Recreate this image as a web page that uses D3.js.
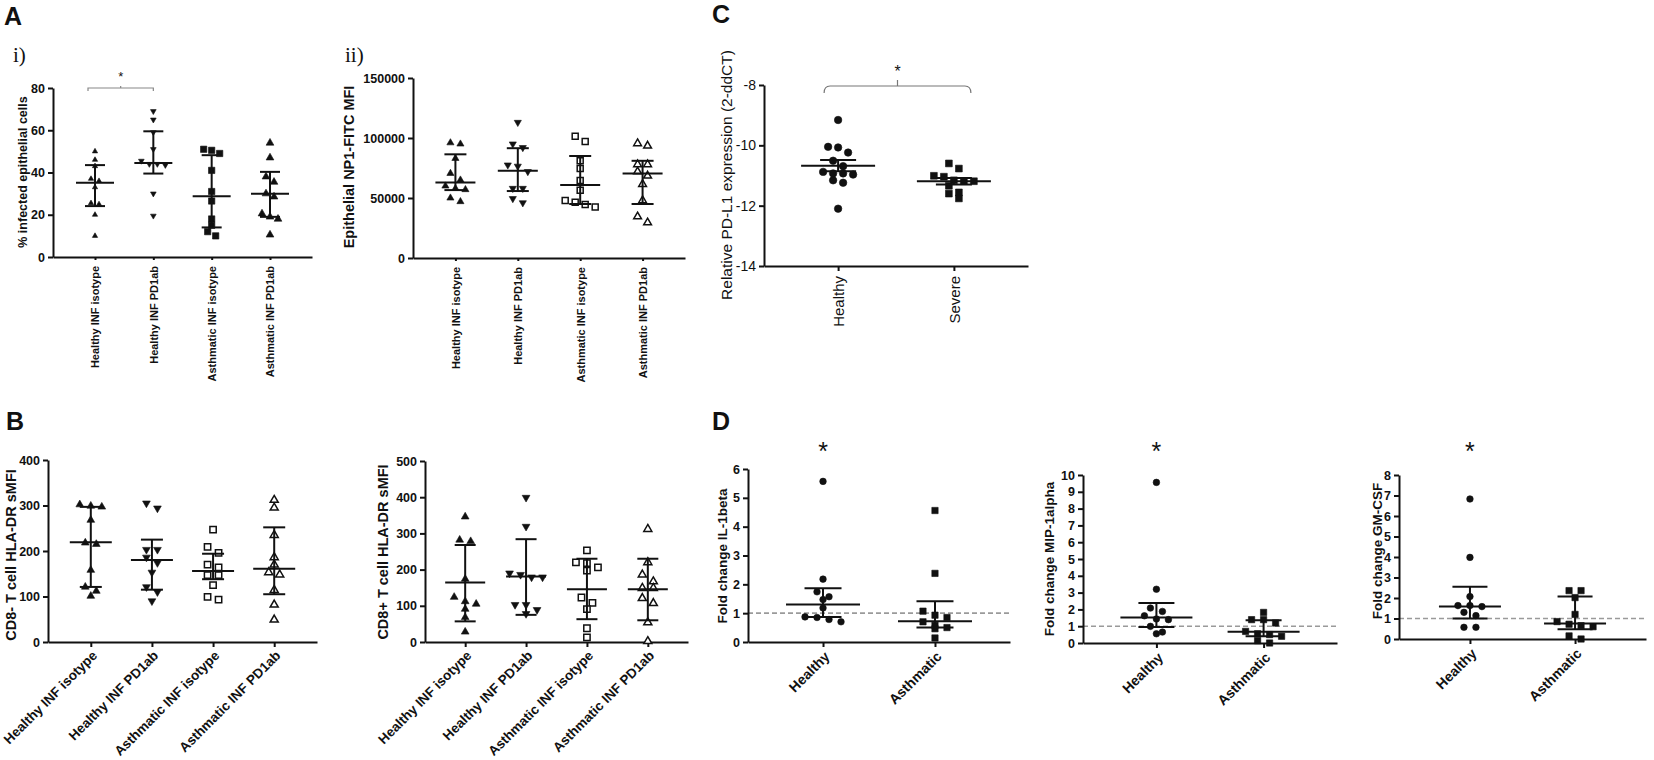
<!DOCTYPE html>
<html>
<head>
<meta charset="utf-8">
<script src="https://cdn.jsdelivr.net/npm/d3@7"></script>
<style>
  body { margin: 0; background: #fff; }
  svg { display: block; }
  text { font-family: "Liberation Sans", Arial, sans-serif; fill: #111; }
</style>
</head>
<body>
<div id="chart"></div>
<script>
// ---- data ----
const stimCats = ['Healthy INF isotype', 'Healthy INF PD1ab', 'Asthmatic INF isotype', 'Asthmatic INF PD1ab'];

// A i) % infected epithelial cells
const infectedTicks = [0, 20, 40, 60, 80];
const infectedVals = [
  [50, 46, 43, 37, 36, 33, 25.5, 25, 20, 10],
  [69, 65, 59, 51, 45.5, 44, 44, 43.5, 30, 19.5],
  [51, 50.5, 49, 41, 31, 26.5, 18, 15, 12, 10],
  [54, 47, 38, 35.5, 30, 28.5, 20.5, 19, 18, 10.5]
];
const infectedMid = [35.1, 44.5, 28.7, 30];
const infectedLo = [24.1, 39.5, 14, 19];
const infectedHi = [43.5, 59.5, 48.2, 40.3];

// A ii) epithelial NP1-FITC MFI
const np1Ticks = [0, 50000, 100000, 150000];
const np1Vals = [
  [96000, 95000, 83000, 70500, 65000, 60000, 58000, 57000, 50000, 47000],
  [113000, 95000, 92000, 77500, 76500, 72000, 58000, 58000, 49500, 46000],
  [101500, 97000, 81000, 74500, 64500, 56500, 48000, 46500, 44500, 42500],
  [95500, 93500, 78000, 78000, 72000, 68500, 61500, 48000, 34500, 29500]
];
const np1Mid = [63000, 72800, 60800, 70500];
const np1Lo = [56600, 55800, 45000, 45000];
const np1Hi = [86400, 91500, 85000, 81000];

// C) relative PD-L1 expression
const pdl1Cats = ['Healthy', 'Severe'];
const pdl1Ticks = [-14, -12, -10, -8];
const pdl1Vals = [
  [-9.16, -10.05, -10.07, -10.24, -10.51, -10.69, -10.88, -10.93, -10.93, -10.97, -11.16, -11.24, -12.1],
  [-10.6, -10.77, -11.01, -11.04, -11.16, -11.18, -11.19, -11.34, -11.56, -11.6, -11.76]
];
const pdl1Mid = [-10.68, -11.19];
const pdl1Lo = [-10.86, -11.3];
const pdl1Hi = [-10.49, -11.08];

// B) CD8- T cell HLA-DR sMFI
const cd8negTicks = [0, 100, 200, 300, 400];
const cd8negVals = [
  [302, 299, 297, 268, 218, 215, 158, 121, 112, 101],
  [305, 294, 203, 203, 186, 174, 153, 121, 110, 90],
  [247, 209, 196, 170, 164, 147, 147, 125, 99, 93],
  [312, 295, 235, 186, 170, 153, 148, 114, 82, 49]
];
const cd8negMid = [219, 180, 156, 161];
const cd8negLo = [121, 115, 138, 105];
const cd8negHi = [297, 225, 194, 252];

// B) CD8+ T cell HLA-DR sMFI
const cd8posTicks = [0, 100, 200, 300, 400, 500];
const cd8posVals = [
  [346, 282, 278, 174, 124, 112, 105, 91, 68, 28],
  [399, 319, 190, 186, 179, 179, 103, 103, 89, 78],
  [253, 220, 218, 206, 197, 123, 108, 91, 38, 13],
  [312, 220, 186, 167, 149, 149, 121, 107, 54, 2]
];
const cd8posMid = [164.5, 181, 146, 146];
const cd8posLo = [57, 75, 63, 60];
const cd8posHi = [268, 284, 230, 230];

// D) fold changes
const foldCats = ['Healthy', 'Asthmatic'];
const il1Ticks = [0, 1, 2, 3, 4, 5, 6];
const il1Vals = [
  [5.57, 2.18, 1.74, 1.57, 1.47, 1.18, 0.87, 0.85, 0.78, 0.7],
  [4.56, 2.38, 1.07, 0.93, 0.85, 0.7, 0.58, 0.5, 0.46, 0.14]
];
const il1Mid = [1.3, 0.72];
const il1Lo = [0.87, 0.5];
const il1Hi = [1.86, 1.41];

const mipTicks = [0, 1, 2, 3, 4, 5, 6, 7, 8, 9, 10];
const mipVals = [
  [9.56, 3.2, 2.08, 1.88, 1.62, 1.43, 1.39, 0.99, 0.65, 0.55],
  [1.82, 1.39, 1.39, 1.19, 0.69, 0.55, 0.5, 0.4, 0.14, 0]
];
const mipMid = [1.52, 0.67];
const mipLo = [0.95, 0.4];
const mipHi = [2.38, 1.35];

const gmTicks = [0, 1, 2, 3, 4, 5, 6, 7, 8];
const gmVals = [
  [6.83, 3.98, 2.07, 1.63, 1.63, 1.58, 1.3, 1.14, 0.57, 0.57],
  [2.36, 2.36, 2.02, 1.2, 0.85, 0.72, 0.65, 0.6, 0.15, 0]
];
const gmMid = [1.58, 0.76];
const gmLo = [1.0, 0.47];
const gmHi = [2.55, 2.07];

// ---- drawing ----
const W = 1654, H = 760;
const ink = '#111';
const svg = d3.select('#chart').append('svg').attr('width', W).attr('height', H);

// marker styles
const triUp = (area, open) => ({ type: d3.symbolTriangle, area, open, rot: 0 });
const triDown = (area, open) => ({ type: d3.symbolTriangle, area, open, rot: 180 });
const square = (area, open) => ({ type: d3.symbolSquare, area, open, rot: 0 });
const circle = (area, open) => ({ type: d3.symbolCircle, area, open, rot: 0 });

// spread points that sit at about the same height into symmetric rows
function swarm(ys, h, step) {
  const sorted = ys.slice().sort((a, b) => a - b);
  const rows = [];
  sorted.forEach(y => {
    const row = rows[rows.length - 1];
    if (row && y - row[0] < h) row.push(y);
    else rows.push([y]);
  });
  const out = [];
  rows.forEach(row => {
    row.forEach((y, j) => out.push({ y, dx: (j - (row.length - 1) / 2) * step }));
  });
  return out;
}

function dotPlot(o) {
  const g = svg.append('g');
  const x = d3.scalePoint().domain(o.cats).range([o.left, o.right]).padding(o.pad);
  const y = d3.scaleLinear().domain(o.domain).range([o.bottom, o.top]);

  // dashed reference line (drawn under everything)
  if (o.refLine != null) {
    g.append('line')
      .attr('x1', o.left).attr('x2', o.right)
      .attr('y1', y(o.refLine)).attr('y2', y(o.refLine))
      .attr('stroke', '#9a9a9a').attr('stroke-width', 1.6)
      .attr('stroke-dasharray', '5,3');
  }

  // y axis
  const ya = g.append('g')
    .attr('transform', `translate(${o.left},0)`)
    .call(d3.axisLeft(y).tickValues(o.ticks).tickFormat(d => String(d))
      .tickSize(5).tickSizeOuter(0).tickPadding(3));
  ya.selectAll('text')
    .style('font-size', o.tickFont + 'px')
    .style('font-weight', o.weight);

  // x axis
  const xa = g.append('g')
    .attr('transform', `translate(0,${o.bottom})`)
    .call(d3.axisBottom(x).tickSize(o.xTick).tickSizeOuter(0));
  xa.selectAll('text')
    .attr('x', 0).attr('y', 0).attr('dy', '0.35em')
    .style('text-anchor', 'end')
    .style('font-size', o.catFont + 'px')
    .style('font-weight', o.weight)
    .attr('transform', o.catRot === -90
      ? `translate(0,${o.catGap}) rotate(-90)`
      : `translate(${o.catGap * 0.3},${o.catGap}) rotate(-45)`);

  [ya, xa].forEach(a => {
    a.selectAll('path, line').attr('stroke', ink).attr('stroke-width', 2);
  });

  // y axis label
  g.append('text')
    .attr('transform', `translate(${o.labelX},${o.labelY}) rotate(-90)`)
    .attr('dy', '0.35em')
    .attr('text-anchor', 'middle')
    .style('font-size', o.labelFont + 'px')
    .style('font-weight', o.weight)
    .text(o.yLabel);

  // points
  o.vals.forEach((vs, i) => {
    const m = o.markers[i];
    const cx = x(o.cats[i]);
    const pts = swarm(vs.map(v => y(v)), o.rowH, o.step);
    g.append('g').selectAll('path')
      .data(pts)
      .join('path')
      .attr('transform', p => `translate(${cx + p.dx},${p.y}) rotate(${m.rot})`)
      .attr('d', d3.symbol(m.type, m.area))
      .attr('fill', m.open ? '#fff' : ink)
      .attr('stroke', ink)
      .attr('stroke-width', m.open ? 1.5 : 0.6);
  });

  // centre line with error bars
  o.cats.forEach((c, i) => {
    const cx = x(c);
    const bar = g.append('g').attr('stroke', ink).attr('stroke-width', 2);
    bar.append('line')
      .attr('x1', cx - o.halfW).attr('x2', cx + o.halfW)
      .attr('y1', y(o.mid[i])).attr('y2', y(o.mid[i]));
    bar.append('line')
      .attr('x1', cx).attr('x2', cx)
      .attr('y1', y(o.lo[i])).attr('y2', y(o.hi[i]));
    [o.lo[i], o.hi[i]].forEach(v => {
      bar.append('line')
        .attr('x1', cx - o.capW).attr('x2', cx + o.capW)
        .attr('y1', y(v)).attr('y2', y(v));
    });
  });

  return { x, y, g };
}

// panel letters and sub-panel tags
[['A', 4, 25], ['B', 6, 430], ['C', 712, 23], ['D', 712, 430]].forEach(([t, lx, ly]) => {
  svg.append('text').attr('x', lx).attr('y', ly)
    .style('font-size', '25px').style('font-weight', 'bold').text(t);
});
[['i)', 13, 62], ['ii)', 345, 62]].forEach(([t, lx, ly]) => {
  svg.append('text').attr('x', lx).attr('y', ly)
    .style('font-family', '"Liberation Serif", "Times New Roman", serif')
    .style('font-size', '21px').text(t);
});

// A i)
const ai = dotPlot({
  left: 53, right: 312, top: 88, bottom: 257, pad: 0.72,
  cats: stimCats, domain: [0, 80], ticks: infectedTicks,
  vals: infectedVals, mid: infectedMid, lo: infectedLo, hi: infectedHi,
  markers: [triUp(12, false), triDown(14, false), square(40, false), triUp(26, false)],
  yLabel: '% infected epithelial cells', labelX: 23, labelY: 172,
  tickFont: 12.5, labelFont: 12.5, catFont: 11, weight: 'bold',
  xTick: 3, catRot: -90, catGap: 9,
  halfW: 19, capW: 10, rowH: 6, step: 8
});
// significance bracket
{
  const x0 = ai.x(stimCats[0]) - 7, x1 = ai.x(stimCats[1]), by = 88;
  ai.g.append('path')
    .attr('d', `M${x0},${by + 3}V${by}H${x1}V${by + 3}M${(x0 + x1) / 2},${by}v-2`)
    .attr('fill', 'none').attr('stroke', '#888').attr('stroke-width', 1.2);
  ai.g.append('text').attr('x', (x0 + x1) / 2).attr('y', 81)
    .attr('text-anchor', 'middle').style('font-size', '13px').text('*');
}

// A ii)
dotPlot({
  left: 413, right: 685, top: 78, bottom: 258, pad: 0.68,
  cats: stimCats, domain: [0, 150000], ticks: np1Ticks,
  vals: np1Vals, mid: np1Mid, lo: np1Lo, hi: np1Hi,
  markers: [triUp(22, false), triDown(22, false), square(36, true), triUp(26, true)],
  yLabel: 'Epithelial NP1-FITC MFI', labelX: 349, labelY: 167,
  tickFont: 12.5, labelFont: 14.5, catFont: 11, weight: 'bold',
  xTick: 3, catRot: -90, catGap: 9,
  halfW: 20, capW: 11, rowH: 7, step: 10
});

// C)
const pc = dotPlot({
  left: 764, right: 1028, top: 85, bottom: 266, pad: 0.64,
  cats: pdl1Cats, domain: [-14, -8], ticks: pdl1Ticks,
  vals: pdl1Vals, mid: pdl1Mid, lo: pdl1Lo, hi: pdl1Hi,
  markers: [circle(44, false), square(46, false)],
  yLabel: 'Relative PD-L1 expression (2-ddCT)', labelX: 727, labelY: 175,
  tickFont: 14, labelFont: 15.5, catFont: 15, weight: 'normal',
  xTick: 5, catRot: -90, catGap: 10,
  halfW: 37, capW: 18, rowH: 7, step: 10
});
{
  const x0 = pc.x(pdl1Cats[0]) - 14, x1 = pc.x(pdl1Cats[1]) + 17, by = 86;
  const mx = (x0 + x1) / 2;
  pc.g.append('path')
    .attr('d', `M${x0},${by + 7}Q${x0},${by} ${x0 + 6},${by}H${x1 - 6}Q${x1},${by} ${x1},${by + 7}M${mx},${by}V${by - 6}`)
    .attr('fill', 'none').attr('stroke', '#777').attr('stroke-width', 1.2);
  pc.g.append('text').attr('x', mx).attr('y', 77)
    .attr('text-anchor', 'middle').style('font-size', '16px').text('*');
}

// B) CD8-
dotPlot({
  left: 48, right: 317, top: 460, bottom: 642, pad: 0.7,
  cats: stimCats, domain: [0, 400], ticks: cd8negTicks,
  vals: cd8negVals, mid: cd8negMid, lo: cd8negLo, hi: cd8negHi,
  markers: [triUp(26, false), triDown(26, false), square(40, true), triUp(28, true)],
  yLabel: 'CD8- T cell HLA-DR sMFI', labelX: 11, labelY: 555,
  tickFont: 12.5, labelFont: 14.5, catFont: 13.5, weight: 'bold',
  xTick: 5, catRot: -45, catGap: 11,
  halfW: 21, capW: 11, rowH: 7, step: 11
});

// B) CD8+
dotPlot({
  left: 425, right: 688, top: 461, bottom: 642, pad: 0.66,
  cats: stimCats, domain: [0, 500], ticks: cd8posTicks,
  vals: cd8posVals, mid: cd8posMid, lo: cd8posLo, hi: cd8posHi,
  markers: [triUp(26, false), triDown(26, false), square(40, true), triUp(28, true)],
  yLabel: 'CD8+ T cell HLA-DR sMFI', labelX: 383, labelY: 552,
  tickFont: 12.5, labelFont: 14.5, catFont: 13.5, weight: 'bold',
  xTick: 5, catRot: -45, catGap: 11,
  halfW: 20, capW: 10.5, rowH: 7, step: 11
});

// D) fold change panels
const foldPanels = [
  { left: 748, right: 1010, top: 469, bottom: 642, pad: 0.67, domain: [0, 6], ticks: il1Ticks,
    vals: il1Vals, mid: il1Mid, lo: il1Lo, hi: il1Hi,
    yLabel: 'Fold change IL-1beta', labelX: 722, labelY: 556, halfW: 37, capW: 18.5 },
  { left: 1083, right: 1337, top: 475, bottom: 643, pad: 0.685, domain: [0, 10], ticks: mipTicks,
    vals: mipVals, mid: mipMid, lo: mipLo, hi: mipHi,
    yLabel: 'Fold change MIP-1alpha', labelX: 1049, labelY: 559, halfW: 36, capW: 18 },
  { left: 1399, right: 1646, top: 475, bottom: 639, pad: 0.675, domain: [0, 8], ticks: gmTicks,
    vals: gmVals, mid: gmMid, lo: gmLo, hi: gmHi,
    yLabel: 'Fold change GM-CSF', labelX: 1377, labelY: 551, halfW: 31, capW: 17.5 }
];
foldPanels.forEach(p => {
  const d = dotPlot(Object.assign({
    cats: foldCats, refLine: 1,
    markers: [circle(34, false), square(40, false)],
    tickFont: 12.5, labelFont: 13.5, catFont: 14, weight: 'bold',
    xTick: 5, catRot: -45, catGap: 12, rowH: 6.5, step: 12
  }, p));
  d.g.append('text').attr('x', d.x(foldCats[0])).attr('y', 460)
    .attr('text-anchor', 'middle').style('font-size', '25px').text('*');
});
</script>
</body>
</html>
